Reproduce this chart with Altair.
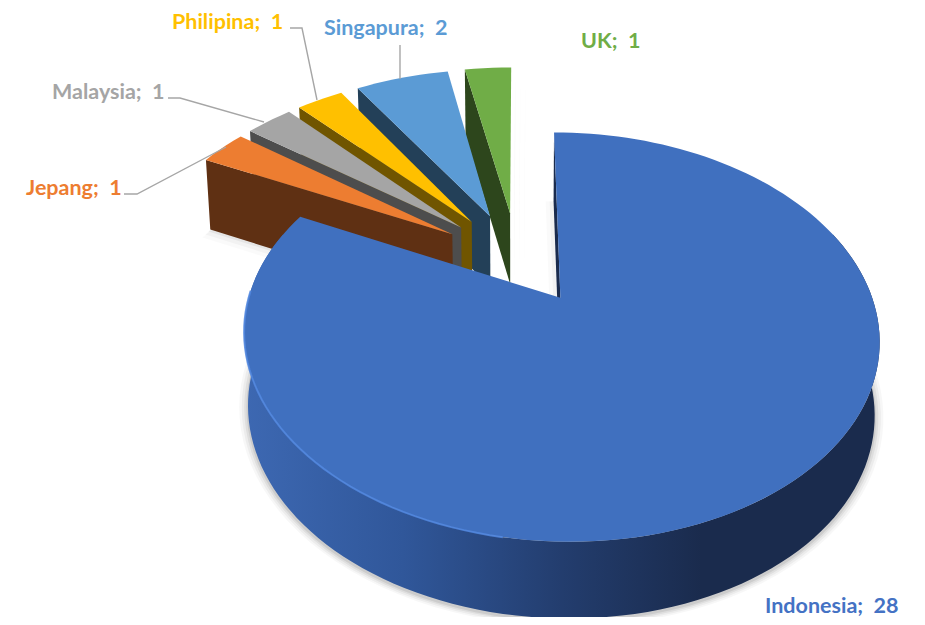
import math
import altair as alt

# ---- data ----
categories = ["Indonesia", "Jepang", "Malaysia", "Philipina", "Singapura", "UK"]
values = [28, 1, 1, 1, 2, 1]

top_colors = ["#4070bf", "#ed7d31", "#a5a5a5", "#ffc000", "#5b9bd5", "#70ad47"]
wall_colors = ["#1a2b4d", "#5f3013", "#4d4d4d", "#705500", "#234058", "#2d461c"]
label_colors = ["#4472c4", "#ed7d31", "#a5a5a5", "#ffc000", "#5b9bd5", "#70ad47"]

# ---- layout (label anchors and leader paths, in page pixels) ----
label_pos = {"Indonesia": (765, 607), "Jepang": (26, 189), "Malaysia": (52, 93),
             "Philipina": (172, 23), "Singapura": (324, 29), "UK": (581, 42)}
leaders = [[(124, 194), (137, 194), (226, 147)],
           [(168, 98), (180, 98), (264, 122)],
           [(290, 28), (302, 28), (317, 100)],
           [(400, 45), (400, 79)]]

# ---- 3D pie projection ----
K, A, B = 0.185, 300.0, 182.5
BOTTOM_SCALE = 0.986
LARGE = dict(explode=0.24, radius=1.0, x0=521.0, y0=259.0)
SMALL = dict(explode=0.26, radius=1.04, x0=517.0, y0=258.5)


def project(X, V, g, bottom=False):
    w = 1 - K * V
    sx, sy = X * A / w, g["y0"] + B * V / w
    if bottom:
        return (g["x0"] + BOTTOM_SCALE * sx, sy + 72 + 4 * V)
    return (g["x0"] + sx, sy)


def centre(a0, a1, g):
    mid = math.radians((a0 + a1) / 2)
    return g["explode"] * math.sin(mid), -g["explode"] * math.cos(mid)


def rim(a, c, g, bottom=False):
    t = math.radians(a)
    return project(c[0] + g["radius"] * math.sin(t), c[1] - g["radius"] * math.cos(t), g, bottom)


def arc(a0, a1, c, g, bottom=False, step=2.0):
    n = max(2, int(abs(a1 - a0) / step) + 1)
    return [rim(a0 + (a1 - a0) * i / (n - 1), c, g, bottom) for i in range(n)]


def offset(pts, dx=0.0, dy=0.0, s=1.0, c=(561, 410)):
    return [(c[0] + (x - c[0]) * s + dx, c[1] + (y - c[1]) * s + dy) for x, y in pts]


projection = alt.Projection(type="identity", scale=1, translate=[-8, -8])


def shape(geom, **mark):
    feature = {"type": "Feature", "properties": {}, "geometry": geom}
    return alt.Chart(alt.Data(values=[feature])).mark_geoshape(**mark).project(**projection.to_dict())


def poly(pts, **mark):
    ring = [list(p) for p in pts] + [list(pts[0])]
    return shape({"type": "Polygon", "coordinates": [ring]}, stroke=None, **mark)


def path(pts, **mark):
    return shape({"type": "LineString", "coordinates": [list(p) for p in pts]}, filled=False, **mark)


total = sum(values)
angles = []
a = 0.0
for v in values:
    angles.append((a, a + 360.0 * v / total))
    a += 360.0 * v / total

layers = []

# soft shadows
a0, a1 = angles[0]
c0 = centre(a0, a1, LARGE)
base = arc(50, a1, c0, LARGE, bottom=True, step=3)
base = base + [project(c0[0], c0[1], LARGE, True)]
for s, op in [(1.028, 0.03), (1.02, 0.045), (1.012, 0.06), (1.005, 0.08)]:
    layers.append(poly(offset(base, dy=2, s=s), fill="#000000", opacity=op))
base2 = arc(0, 70, c0, LARGE, bottom=True, step=3) + [project(c0[0], c0[1], LARGE, True)]
for d, op in [(8, 0.02), (4, 0.03)]:
    layers.append(poly(offset(base2, dx=-d), fill="#000000", opacity=op))
for i in range(1, 6):
    b0, b1 = angles[i]
    c = centre(b0, b1, SMALL)
    tip_b = project(c[0], c[1], SMALL, True)
    wedge_b = [tip_b] + arc(b0, b1, c, SMALL, bottom=True)
    if i == 1:
        for d, op in [(8, 0.02), (5, 0.03), (2, 0.05)]:
            layers.append(poly(offset(wedge_b, dx=-d, dy=d), fill="#000000", opacity=op))
    if i == 5:
        tip_t = project(c[0], c[1], SMALL)
        end_t = rim(b1, c, SMALL)
        end_b = rim(b1, c, SMALL, True)
        for d, op in [(14, 0.015), (9, 0.02), (4, 0.03)]:
            layers.append(poly(offset([end_t, tip_t, tip_b, end_b], dx=d), fill="#000000", opacity=op))

# small slices, back to front
for i in [5, 4, 3, 2, 1]:
    b0, b1 = angles[i]
    c = centre(b0, b1, SMALL)
    tip_t = project(c[0], c[1], SMALL)
    tip_b = project(c[0], c[1], SMALL, True)
    layers.append(poly([tip_t, rim(b0, c, SMALL), rim(b0, c, SMALL, True), tip_b], fill=wall_colors[i]))
    layers.append(poly([tip_t] + arc(b0, b1, c, SMALL), fill=top_colors[i]))

# large slice
apex_t = project(c0[0], c0[1], LARGE)
apex_b = project(c0[0], c0[1], LARGE, True)
layers.append(poly([rim(0, c0, LARGE), apex_t, apex_b, rim(0, c0, LARGE, True)], fill=wall_colors[0]))
side = arc(70, 290, c0, LARGE) + arc(290, 70, c0, LARGE, bottom=True)
gradient = alt.LinearGradient(
    gradient="linear", x1=0, x2=1, y1=0, y2=0,
    stops=[alt.GradientStop(offset=0.0, color="#3d68b2"),
           alt.GradientStop(offset=0.25, color="#30579a"),
           alt.GradientStop(offset=0.5, color="#233d6e"),
           alt.GradientStop(offset=0.72, color="#1a2b4d"),
           alt.GradientStop(offset=1.0, color="#1a2b4d")])
layers.append(poly(side, fill=gradient))
layers.append(poly([apex_t] + arc(a0, a1, c0, LARGE), fill=top_colors[0]))
layers.append(path(arc(190, 272, c0, LARGE), stroke="#5288e0", strokeWidth=2, opacity=0.85))

# leaders
for pts in leaders:
    layers.append(path(pts, stroke="#a6a6a6", strokeWidth=1.4))

# labels
rows = [{"lon": label_pos[c][0], "lat": label_pos[c][1], "text": f"{c};\u00a0\u00a0{v}", "color": col}
        for c, v, col in zip(categories, values, label_colors)]
labels = alt.Chart(alt.Data(values=rows)).mark_text(
    align="left", baseline="middle", font="Lato", fontSize=21.5, fontWeight="bold"
).encode(
    longitude="lon:Q", latitude="lat:Q", text="text:N", color=alt.Color("color:N", scale=None)
).project(**projection.to_dict())
layers.append(labels)

chart = alt.layer(*layers).properties(
    width=909, height=609, padding=0, autosize=alt.AutoSizeParams(type="none"), background="white"
).configure_view(stroke=None)

chart.save("out.html", embed_options={"renderer": "svg", "actions": False})
